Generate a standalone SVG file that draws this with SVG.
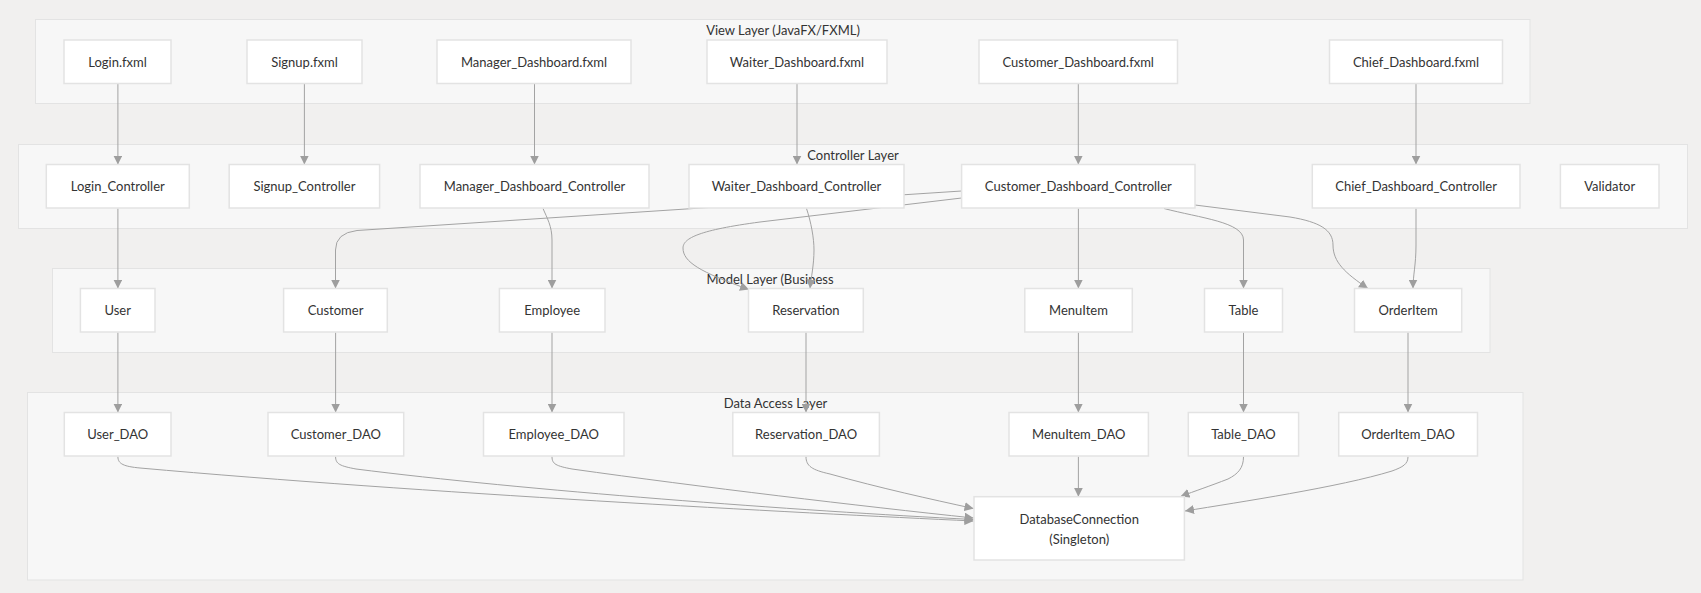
<svg xmlns="http://www.w3.org/2000/svg" width="1701" height="593" viewBox="0 0 1701 593">
  <defs>
    <marker id="arrow" viewBox="0 0 10 10" refX="10" refY="5" markerUnits="userSpaceOnUse" markerWidth="9" markerHeight="9" orient="auto">
      <path d="M0,0 L10,5 L0,10 z" fill="#9e9e9e"/>
    </marker>
    <style>
      .bg { fill: #f1f0ef; }
      .cluster rect { fill: #f7f7f7; stroke: #e3e3e3; stroke-width: 1; }
      .cluster text { font-family: Lato, "Liberation Sans", sans-serif; font-size: 13px; fill: #333333; text-anchor: middle; }
      .node rect { fill: #ffffff; stroke: #e3e3e3; stroke-width: 1.5; }
      .node text { font-family: Lato, "Liberation Sans", sans-serif; font-size: 13px; fill: #333333; text-anchor: middle; dominant-baseline: central; }
      .edges path { fill: none; stroke: #a3a3a3; stroke-width: 1; marker-end: url(#arrow); }
    </style>
  </defs>

  <rect class="bg" x="0" y="0" width="1701" height="593"/>

  <!-- layer frames -->
  <g id="view-layer" class="cluster">
    <rect x="35.5" y="19.5" width="1494.5" height="84"/>
    <text x="783" y="35">View Layer (JavaFX/FXML)</text>
  </g>
  <g id="controller-layer" class="cluster">
    <rect x="18.5" y="144.5" width="1669" height="84"/>
    <text x="853" y="159.5">Controller Layer</text>
  </g>
  <g id="model-layer" class="cluster">
    <rect x="52.5" y="268.5" width="1437.5" height="84"/>
    <text x="770" y="283.5">Model Layer (Business</text>
  </g>
  <g id="data-layer" class="cluster">
    <rect x="27.5" y="392.5" width="1495.5" height="187.5"/>
    <text x="775.5" y="408">Data Access Layer</text>
  </g>

  <!-- connectors -->
  <g id="connectors" class="edges">
    <path d="M117.9,83.5 L117.9,164.5"/>
    <path d="M304.4,83.5 L304.4,164.5"/>
    <path d="M534.5,83.5 L534.5,164.5"/>
    <path d="M797,83.5 L797,164.5"/>
    <path d="M1078.3,83.5 L1078.3,164.5"/>
    <path d="M1416,83.5 L1416,164.5"/>

    <path d="M117.9,208.5 L117.9,288.5"/>
    <path d="M543,208.5 C547,218 552,226 552,240 L552,288.5"/>
    <path d="M961.6,191 L357,230.5 Q335.5,233 335.5,250 L335.5,288.5"/>
    <path d="M961.6,198 L760,222 C700,230 683,238 683,248 C683,262 700,272 749,289.5"/>
    <path d="M806.5,208.5 C811,222 814,238 814,250 C814,265 811,278 810,288.5"/>
    <path d="M1078.4,208.5 L1078.4,288.5"/>
    <path d="M1164,208.5 C1200,218 1243.5,222 1243.5,240 L1243.5,288.5"/>
    <path d="M1195,205 L1290,217 C1320,222 1333,230 1333,245 C1333,262 1345,273 1368,288.5"/>
    <path d="M1416,208.5 L1416,245 C1416,265 1413,275 1413,288.5"/>

    <path d="M117.9,332.5 L117.9,412.5"/>
    <path d="M335.6,332.5 L335.6,412.5"/>
    <path d="M552,332.5 L552,412.5"/>
    <path d="M806,332.5 L806,412.5"/>
    <path d="M1078.4,332.5 L1078.4,412.5"/>
    <path d="M1243.5,332.5 L1243.5,412.5"/>
    <path d="M1408,332.5 L1408,412.5"/>

    <path d="M117.9,456.7 C117.9,464 124,466.5 140,468 C420,493 800,513 973.5,521"/>
    <path d="M335.6,456.7 C335.6,464 340,466 356,469 C520,490 800,511 973.5,519.5"/>
    <path d="M552,456.7 C552,464 556,466 572,469 C700,487 860,506 973.5,518"/>
    <path d="M806,456.7 C806,466 812,470 830,474 C880,488 930,499 973.5,508.5"/>
    <path d="M1078.4,456.7 L1078.4,496.7"/>
    <path d="M1243.5,456.7 C1243.5,468 1238,474 1228,479 C1210,486 1195,491 1180.5,496.5"/>
    <path d="M1408,456.7 C1408,464 1403,467 1392,471 C1340,487 1240,502 1185,511"/>
  </g>

  <!-- view nodes -->
  <g id="login-fxml" class="node"><rect x="64" y="40" width="107" height="43.5"/><text x="117.5" y="61.7">Login.fxml</text></g>
  <g id="signup-fxml" class="node"><rect x="247" y="40" width="115" height="43.5"/><text x="304.5" y="61.7">Signup.fxml</text></g>
  <g id="manager-dashboard-fxml" class="node"><rect x="437" y="40" width="194" height="43.5"/><text x="534" y="61.7">Manager_Dashboard.fxml</text></g>
  <g id="waiter-dashboard-fxml" class="node"><rect x="707" y="40" width="180" height="43.5"/><text x="797" y="61.7">Waiter_Dashboard.fxml</text></g>
  <g id="customer-dashboard-fxml" class="node"><rect x="979" y="40" width="198.5" height="43.5"/><text x="1078.2" y="61.7">Customer_Dashboard.fxml</text></g>
  <g id="chief-dashboard-fxml" class="node"><rect x="1329.5" y="40" width="173" height="43.5"/><text x="1416" y="61.7">Chief_Dashboard.fxml</text></g>

  <!-- controller nodes -->
  <g id="login-controller" class="node"><rect x="46.3" y="164.5" width="143" height="43.5"/><text x="117.8" y="186.2">Login_Controller</text></g>
  <g id="signup-controller" class="node"><rect x="229.2" y="164.5" width="150.4" height="43.5"/><text x="304.4" y="186.2">Signup_Controller</text></g>
  <g id="manager-dashboard-controller" class="node"><rect x="420" y="164.5" width="229" height="43.5"/><text x="534.5" y="186.2">Manager_Dashboard_Controller</text></g>
  <g id="waiter-dashboard-controller" class="node"><rect x="689" y="164.5" width="215" height="43.5"/><text x="796.5" y="186.2">Waiter_Dashboard_Controller</text></g>
  <g id="customer-dashboard-controller" class="node"><rect x="961.6" y="164.5" width="233.4" height="43.5"/><text x="1078.3" y="186.2">Customer_Dashboard_Controller</text></g>
  <g id="chief-dashboard-controller" class="node"><rect x="1312.3" y="164.5" width="207.7" height="43.5"/><text x="1416.1" y="186.2">Chief_Dashboard_Controller</text></g>
  <g id="validator" class="node"><rect x="1560.4" y="164.5" width="98.6" height="43.5"/><text x="1609.7" y="186.2">Validator</text></g>

  <!-- model nodes -->
  <g id="user" class="node"><rect x="80.4" y="288.5" width="74.6" height="43.5"/><text x="117.7" y="310.2">User</text></g>
  <g id="customer" class="node"><rect x="283.6" y="288.5" width="103.7" height="43.5"/><text x="335.5" y="310.2">Customer</text></g>
  <g id="employee" class="node"><rect x="499.4" y="288.5" width="105.6" height="43.5"/><text x="552.2" y="310.2">Employee</text></g>
  <g id="reservation" class="node"><rect x="748.5" y="288.5" width="114.8" height="43.5"/><text x="805.9" y="310.2">Reservation</text></g>
  <g id="menuitem" class="node"><rect x="1024.8" y="288.5" width="107.5" height="43.5"/><text x="1078.5" y="310.2">MenuItem</text></g>
  <g id="table" class="node"><rect x="1204.5" y="288.5" width="78" height="43.5"/><text x="1243.5" y="310.2">Table</text></g>
  <g id="orderitem" class="node"><rect x="1354.5" y="288.5" width="107.2" height="43.5"/><text x="1408.1" y="310.2">OrderItem</text></g>

  <!-- data access nodes -->
  <g id="user-dao" class="node"><rect x="64.3" y="412.5" width="106.7" height="43.5"/><text x="117.7" y="434.2">User_DAO</text></g>
  <g id="customer-dao" class="node"><rect x="268" y="412.5" width="135.7" height="43.5"/><text x="335.8" y="434.2">Customer_DAO</text></g>
  <g id="employee-dao" class="node"><rect x="483.5" y="412.5" width="140.5" height="43.5"/><text x="553.7" y="434.2">Employee_DAO</text></g>
  <g id="reservation-dao" class="node"><rect x="732.8" y="412.5" width="146.6" height="43.5"/><text x="806.1" y="434.2">Reservation_DAO</text></g>
  <g id="menuitem-dao" class="node"><rect x="1009" y="412.5" width="139.4" height="43.5"/><text x="1078.7" y="434.2">MenuItem_DAO</text></g>
  <g id="table-dao" class="node"><rect x="1188.3" y="412.5" width="110.3" height="43.5"/><text x="1243.4" y="434.2">Table_DAO</text></g>
  <g id="orderitem-dao" class="node"><rect x="1338.7" y="412.5" width="138.8" height="43.5"/><text x="1408.1" y="434.2">OrderItem_DAO</text></g>
  <g id="database-connection" class="node"><rect x="974" y="496.7" width="210.4" height="63.3"/><text x="1079.2" y="519.3">DatabaseConnection</text><text x="1079.2" y="538.7">(Singleton)</text></g>
</svg>
